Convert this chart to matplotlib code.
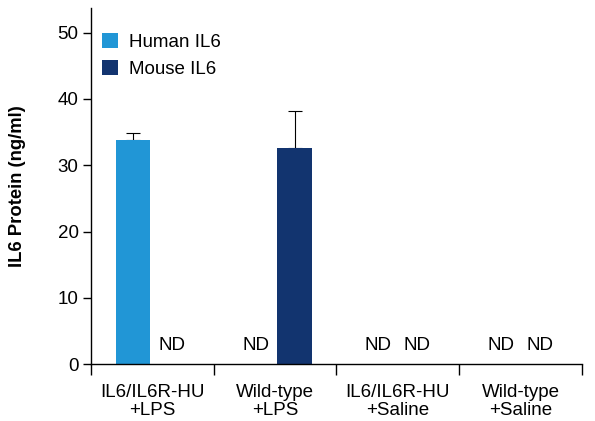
import numpy as np
import matplotlib.pyplot as plt

plt.rcParams['font.family'] = ['Liberation Sans', 'DejaVu Sans']

groups = ["IL6/IL6R-HU\n+LPS", "Wild-type\n+LPS", "IL6/IL6R-HU\n+Saline", "Wild-type\n+Saline"]
human_il6 = [33.8, None, None, None]
human_err = [1.0, None, None, None]
mouse_il6 = [None, 32.6, None, None]
mouse_err = [None, 5.5, None, None]

human_colour = "#2196d6"
mouse_colour = "#12346f"
fs = 13.5

fig = plt.figure(figsize=(5.95, 4.21), dpi=100)
ax = fig.add_axes([0.153, 0.135, 0.825, 0.846])

centers = np.arange(len(groups)) + 0.5
width = 0.285
off = 0.158

for i, c in enumerate(centers):
    for vals, errs, sign, colour, lab in [(human_il6, human_err, -1, human_colour, "Human IL6"),
                                          (mouse_il6, mouse_err, 1, mouse_colour, "Mouse IL6")]:
        x = c + sign * off
        if vals[i] is None:
            ax.text(x, 1.5, "ND", ha='center', va='bottom', fontsize=fs)
        else:
            ax.bar(x, vals[i], width, color=colour, label=lab, zorder=2)
            ax.errorbar(x, vals[i], yerr=[[0], [errs[i]]], fmt='none', ecolor='black',
                        elinewidth=0.8, capsize=5, capthick=0.8, zorder=1)

ax.set_xlim(0, len(groups))
ax.set_ylim(0, 53.7)
ax.set_yticks([0, 10, 20, 30, 40, 50])
ax.set_xticks(np.arange(len(groups) + 1))
ax.set_xticklabels([])
ax.set_xticks(centers, minor=True)
ax.set_xticklabels(groups, minor=True, fontsize=fs, linespacing=1.1)
ax.tick_params(axis='x', which='major', length=8, width=1)
ax.tick_params(axis='x', which='minor', length=0, pad=14)
ax.tick_params(axis='y', length=6, width=1, labelsize=fs, pad=3)

for s in ['top', 'right']:
    ax.spines[s].set_visible(False)
for s in ['left', 'bottom']:
    ax.spines[s].set_linewidth(1)

ax.set_ylabel("IL6 Protein (ng/ml)", fontsize=13.3, fontweight='bold')
ax.yaxis.set_label_coords(-0.132, 0.5)

ax.legend(loc='upper left', bbox_to_anchor=(0.0, 0.96), frameon=False, fontsize=fs,
          handlelength=0.85, handleheight=0.85, labelspacing=0.45, handletextpad=0.55,
          borderaxespad=0.2)

fig.savefig("out.png", dpi=100)
